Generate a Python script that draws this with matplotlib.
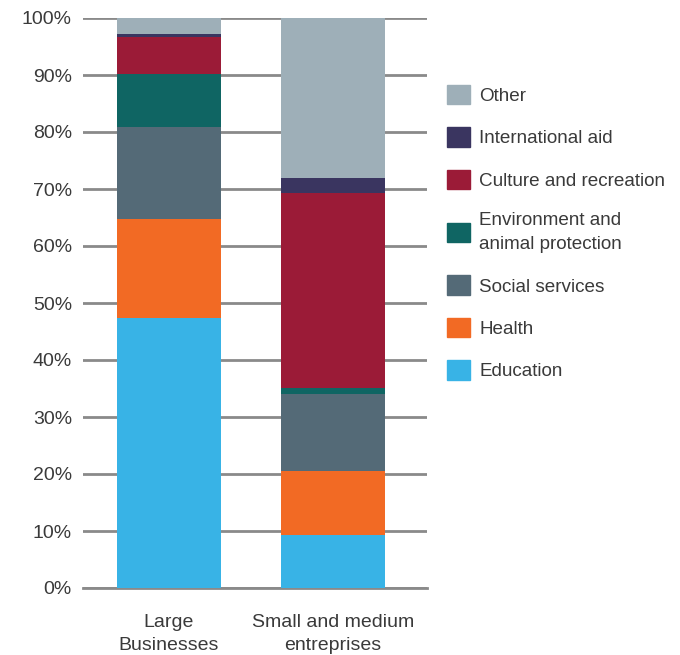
import matplotlib.pyplot as plt
from matplotlib.patches import Patch

# Share of donations by cause (%)
groups = ["Large\nBusinesses", "Small and medium\nentreprises"]
causes = ["Education", "Health", "Social services",
          "Environment and\nanimal protection", "Culture and recreation",
          "International aid", "Other"]
large = [47.4, 17.3, 16.1, 9.4, 6.4, 0.6, 2.8]
sme = [9.3, 11.2, 13.5, 1.1, 34.2, 2.6, 28.1]
colors = ["#38B3E6", "#F26A24", "#546A77", "#0F6563", "#9B1B37",
          "#3A3560", "#9EAFB8"]

plt.rcParams["font.family"] = ["Liberation Sans", "DejaVu Sans"]
text_color = "#3a3a3a"

fig = plt.figure(figsize=(6.8, 6.55), dpi=100)
ax = fig.add_axes([83 / 680, 1 - 588 / 655, 344 / 680, 570 / 655])

x = [0, 1]
bottoms = [0, 0]
for i, cause in enumerate(causes):
    vals = [large[i], sme[i]]
    ax.bar(x, vals, width=0.634, bottom=bottoms, color=colors[i],
           label=cause, zorder=3)
    bottoms = [b + v for b, v in zip(bottoms, vals)]

ax.set_ylim(0, 100)
ax.set_xlim(-0.524, 1.573)
ax.set_yticks(range(0, 101, 10))
ax.set_yticklabels([f"{t}%" for t in range(0, 101, 10)])
ax.set_xticks(x)
ax.set_xticklabels(groups, linespacing=1.45)
ax.tick_params(axis="both", length=0, labelsize=14, colors=text_color)
ax.tick_params(axis="y", pad=8)
ax.tick_params(axis="x", pad=19)
ax.yaxis.grid(True, color="#8a8a8a", linewidth=2, zorder=0)
for s in ["top", "right", "left"]:
    ax.spines[s].set_visible(False)
ax.spines["bottom"].set_color("#8a8a8a")
ax.spines["bottom"].set_linewidth(2)

handles = [Patch(color=c) for c in colors][::-1]
labels = causes[::-1]
leg = fig.legend(handles, labels, loc="upper left",
                 bbox_to_anchor=(430 / 680, 1 - 68 / 655),
                 frameon=False, fontsize=13.6, handlelength=1.2,
                 handleheight=1.2, labelspacing=1.18, handletextpad=0.5,
                 labelcolor=text_color)
for t in leg.get_texts():
    t.set_linespacing(1.55)

fig.savefig("out.png", dpi=100)
